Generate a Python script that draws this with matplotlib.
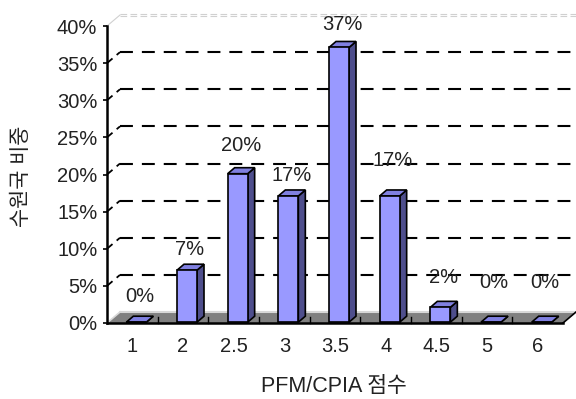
import matplotlib.pyplot as plt
from matplotlib.patches import Polygon

plt.rcParams['font.family'] = ['Liberation Sans', 'Noto Sans CJK KR']

# score categories and share of recipient countries (%)
scores = ['1', '2', '2.5', '3', '3.5', '4', '4.5', '5', '6']
shares = [0, 7, 20, 17, 37, 17, 2, 0, 0]
y_ticks = [0, 5, 10, 15, 20, 25, 30, 35, 40]

# label lift above each bar top, in pixels
label_lift = [27, 22, 29, 21, 24, 36, 31, 41, 41]

fig = plt.figure(figsize=(5.76, 3.99), dpi=100)
ax_l, ax_b, ax_w, ax_h = 107, 76, 456, 297
ax = fig.add_axes([ax_l / 576, ax_b / 399, ax_w / 576, ax_h / 399])
n = len(scores)
ax.set_xlim(-0.5, n - 0.5)
ax.set_ylim(0, 40)

# pixel -> data units
ux = n / ax_w
uy = 40 / ax_h

# depth of the floor / back wall
DX, DY = 13 * ux, 11 * uy

# back wall gridlines
for t in y_ticks[1:-1]:
    ax.plot([-0.5, -0.5 + DX], [t, t + DY], color='black', lw=1.3,
            ls=(0, (4, 3)), clip_on=False, zorder=1)
    ax.plot([-0.5 + DX, n - 0.5 + DX], [t + DY, t + DY], color='black',
            lw=1.5, ls=(0, (6.2, 4.3)), clip_on=False, zorder=1)
for off in (-0.8, 0.8):
    ax.plot([-0.5 + DX, n - 0.5 + DX], [40 + DY + off * uy] * 2,
            color='#d0d0d0', lw=0.8, ls=(0, (6, 3)), clip_on=False, zorder=1)
ax.plot([-0.5, -0.5 + DX], [40, 40 + DY], color='#d0d0d0', lw=0.8,
        clip_on=False, zorder=1)

# floor
floor = Polygon([(-0.5, 0), (n - 0.5, 0), (n - 0.5 + DX, DY), (-0.5 + DX, DY)],
                closed=True, facecolor='#808080', edgecolor='none',
                clip_on=False, zorder=1.5)
ax.add_patch(floor)
ax.plot([-0.5 + DX, n - 0.5 + DX], [DY, DY], color='#d8d8d8', lw=1.5,
        clip_on=False, zorder=1.6)
ax.plot([-0.5, -0.5 + DX], [0, DY], color='#d8d8d8', lw=1.2,
        clip_on=False, zorder=1.6)
ax.plot([n - 0.5, n - 0.5 + DX], [0, DY], color='black', lw=1.2,
        clip_on=False, zorder=1.6)
for i in range(1, n):
    ax.plot([i - 0.5, i - 0.5], [0, 6 * uy], color='black', lw=1.0,
            clip_on=False, zorder=1.7)

# 3D columns
bw = 20 * ux
fx, fy = 4 * ux, 0.8 * uy
bx, by = 7 * ux, 6 * uy
for i, v in enumerate(shares):
    x0 = i - bw / 2 + fx
    x1 = x0 + bw
    y0 = fy
    y1 = fy + v
    front = Polygon([(x0, y0), (x1, y0), (x1, y1), (x0, y1)], closed=True,
                    facecolor='#9999ff', edgecolor='black', lw=1.2,
                    joinstyle='miter', clip_on=False, zorder=3)
    side = Polygon([(x1, y0), (x1 + bx, y0 + by), (x1 + bx, y1 + by), (x1, y1)],
                   closed=True, facecolor='#4e4e8c', edgecolor='black', lw=1.2,
                   joinstyle='miter', clip_on=False, zorder=3)
    top = Polygon([(x0, y1), (x1, y1), (x1 + bx, y1 + by), (x0 + bx, y1 + by)],
                  closed=True, facecolor='#8080e0', edgecolor='black', lw=1.2,
                  joinstyle='miter', clip_on=False, zorder=3)
    for p in (side, top, front):
        ax.add_patch(p)
    ax.text(i + 7 * ux, v + label_lift[i] * uy, f'{v}%', ha='center',
            va='center', fontsize=14.5, color='#222222', zorder=2)

# axes
for s in ('top', 'right'):
    ax.spines[s].set_visible(False)
for s in ('left', 'bottom'):
    ax.spines[s].set_linewidth(1.8)
    ax.spines[s].set_zorder(4)
ax.set_yticks(y_ticks)
ax.set_yticklabels([f'{t}%' for t in y_ticks], fontsize=14.5, color='#222222')
ax.tick_params(axis='y', length=3, width=1.2, direction='out', pad=4)
ax.set_xticks(range(n))
ax.set_xticklabels(scores, fontsize=14.5, color='#222222')
ax.tick_params(axis='x', length=0, pad=10)

fig.text(334 / 576, 1 - 387 / 399, 'PFM/CPIA 점수', ha='center', va='center',
         fontsize=15.5, color='#222222')
fig.text(21 / 576, 1 - 176 / 399, '수원국 비중', ha='center', va='center',
         rotation=90, fontsize=15, color='#222222')

fig.savefig('out.png', dpi=100)
